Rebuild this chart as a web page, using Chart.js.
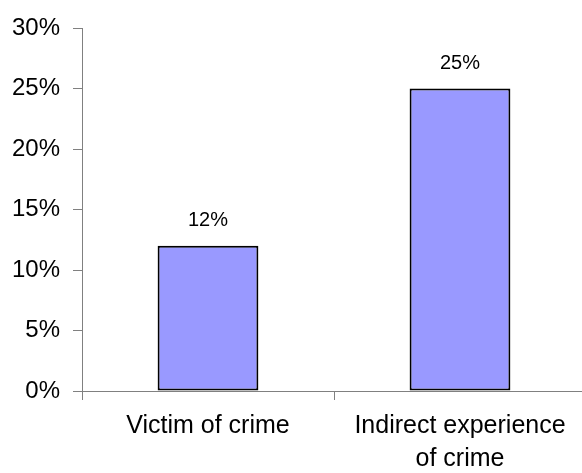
<!DOCTYPE html>
<html>
<head>
<meta charset="utf-8">
<script src="https://cdn.jsdelivr.net/npm/chart.js@4"></script>
<style>
  html, body { margin: 0; padding: 0; background: #fff; overflow: hidden; }
  #wrap { width: 586px; height: 473px; position: relative; }
</style>
</head>
<body>
<div id="wrap"><canvas id="bar-chart"></canvas></div>
<script>
// crime experience shares
const categories = [["Victim of crime"], ["Indirect experience", "of crime"]];
const shares = [12, 25];
const yTicks = [0, 5, 10, 15, 20, 25, 30];

const axisGrey = "#808080";

// writes the value above each bar
const valueLabels = {
  id: "valueLabels",
  afterDatasetsDraw(chart) {
    const ctx = chart.ctx;
    const meta = chart.getDatasetMeta(0);
    ctx.save();
    ctx.font = "20px 'Liberation Sans', Arial, sans-serif";
    ctx.fillStyle = "#000";
    ctx.textAlign = "center";
    ctx.textBaseline = "alphabetic";
    meta.data.forEach((bar, i) => {
      ctx.fillText(shares[i] + "%", bar.x, bar.y - 20);
    });
    ctx.restore();
  }
};

new Chart(document.getElementById("bar-chart"), {
  type: "bar",
  data: {
    labels: categories,
    datasets: [{
      data: shares,
      backgroundColor: "#9999ff",
      borderColor: "#000",
      borderWidth: 2,
      borderSkipped: false,
      barPercentage: 0.4,
      categoryPercentage: 1
    }]
  },
  options: {
    responsive: true,
    maintainAspectRatio: false,
    animation: false,
    events: [],
    layout: { padding: { top: 28, right: 0, bottom: 0, left: 0 } },
    plugins: {
      legend: { display: false },
      tooltip: { enabled: false }
    },
    scales: {
      x: {
        offset: true,
        grid: {
          offset: true,
          drawOnChartArea: false,
          drawTicks: true,
          tickLength: 9,
          tickColor: axisGrey
        },
        border: { color: axisGrey, width: 1 },
        ticks: {
          color: "#000",
          padding: 10,
          maxRotation: 0,
          font: { family: "'Liberation Sans', Arial, sans-serif", size: 25, lineHeight: 1.3 }
        },
        afterFit(scale) { scale.height = 82; }
      },
      y: {
        min: 0,
        max: 30,
        afterBuildTicks(scale) {
          scale.ticks = yTicks.map(v => ({ value: v }));
        },
        grid: {
          drawOnChartArea: false,
          drawTicks: true,
          tickLength: 9,
          tickColor: axisGrey
        },
        border: { color: axisGrey, width: 1 },
        ticks: {
          color: "#000",
          padding: 13,
          callback: v => v + "%",
          font: { family: "'Liberation Sans', Arial, sans-serif", size: 24 }
        },
        afterFit(scale) { scale.width = 82; }
      }
    }
  },
  plugins: [valueLabels]
});
</script>
</body>
</html>
